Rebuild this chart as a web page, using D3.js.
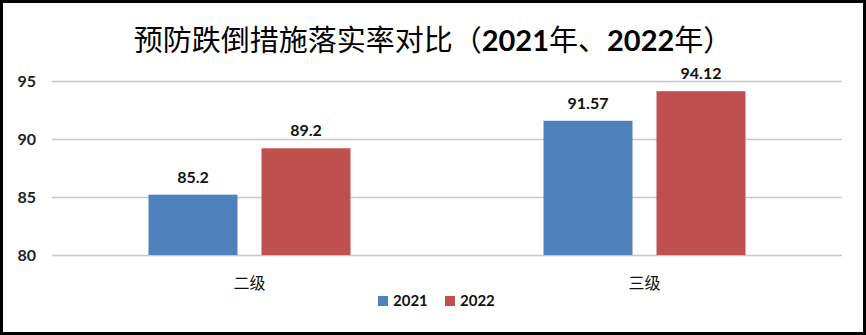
<!DOCTYPE html>
<html>
<head>
<meta charset="utf-8">
<script src="https://cdn.jsdelivr.net/npm/d3@7"></script>
<style>
  body { margin: 0; background: #fff; }
  svg { display: block; }
</style>
</head>
<body>
<svg width="866" height="335"></svg>
<script>
var categories = ["二级", "三级"];
var series = ["2021", "2022"];
var values2021 = [85.2, 91.57];
var values2022 = [89.2, 94.12];
var yTicks = [80, 85, 90, 95];
var colors = ["#4F81BD", "#C0504D"];

var svg = d3.select("svg"),
    width = +svg.attr("width"),
    height = +svg.attr("height");

var numFont = "Lato, 'Liberation Sans', sans-serif";
var cjkFont = "'Noto Sans CJK SC', sans-serif";

svg.append("rect")
    .attr("x", 1.5).attr("y", 1.5)
    .attr("width", width - 3).attr("height", height - 3)
    .attr("fill", "#fff")
    .attr("stroke", "#000")
    .attr("stroke-width", 3);

// title: mixed CJK + bold digits
var title = svg.append("text")
    .attr("x", width / 2)
    .attr("y", 51)
    .attr("text-anchor", "middle")
    .style("font-size", "29px")
    .style("fill", "#000");
[["预防跌倒措施落实率对比（", false], ["2021", true], ["年、", false], ["2022", true], ["年）", false]]
  .forEach(function(p) {
    title.append("tspan")
        .text(p[0])
        .style("font-family", p[1] ? numFont : cjkFont)
        .style("font-weight", p[1] ? "bold" : "normal");
  });

var y = d3.scaleLinear().domain([80, 95]).range([255, 81]);
var x0 = d3.scaleBand().domain(categories).range([52, 842]);
var x1 = d3.scaleBand().domain(series).range([0, x0.bandwidth()])
    .paddingInner(0.2124).paddingOuter(0.854);

// gridlines
svg.append("g")
  .selectAll("line")
  .data(yTicks)
  .enter().append("line")
    .attr("x1", 52).attr("x2", 842)
    .attr("y1", function(d) { return Math.round(y(d)) + 0.5; })
    .attr("y2", function(d) { return Math.round(y(d)) + 0.5; })
    .attr("stroke", "#c8c8c8")
    .attr("stroke-width", 1.5);

// y axis labels
svg.append("g")
  .selectAll("text")
  .data(yTicks)
  .enter().append("text")
    .attr("x", 36)
    .attr("y", function(d) { return y(d); })
    .attr("dy", "0.35em")
    .attr("text-anchor", "end")
    .style("font-family", numFont)
    .style("font-weight", "bold")
    .style("font-size", "16px")
    .style("fill", "#222")
    .text(function(d) { return d; });

var rows = categories.map(function(c, i) {
  return { cat: c, vals: [values2021[i], values2022[i]] };
});

var group = svg.append("g")
  .selectAll("g")
  .data(rows)
  .enter().append("g")
    .attr("transform", function(d) { return "translate(" + x0(d.cat) + ",0)"; });

var bars = group.selectAll("g")
    .data(function(d) {
      return series.map(function(s, j) { return { s: s, v: d.vals[j], c: colors[j] }; });
    })
  .enter().append("g");

bars.append("rect")
    .attr("x", function(d) { return x1(d.s); })
    .attr("y", function(d) { return y(d.v); })
    .attr("width", x1.bandwidth())
    .attr("height", function(d) { return y(80) - y(d.v); })
    .attr("fill", function(d) { return d.c; });

bars.append("text")
    .attr("x", function(d) { return x1(d.s) + x1.bandwidth() / 2; })
    .attr("y", function(d) { return y(d.v) - 12; })
    .attr("text-anchor", "middle")
    .style("font-family", numFont)
    .style("font-weight", "bold")
    .style("font-size", "16px")
    .style("fill", "#111")
    .text(function(d) { return d.v; });

// category labels
svg.append("g")
  .selectAll("text")
  .data(categories)
  .enter().append("text")
    .attr("x", function(d) { return x0(d) + x0.bandwidth() / 2; })
    .attr("y", 283)
    .attr("dy", "0.35em")
    .attr("text-anchor", "middle")
    .style("font-family", cjkFont)
    .style("font-size", "16px")
    .style("fill", "#111")
    .text(function(d) { return d; });

// legend
var legend = svg.append("g")
  .selectAll("g")
  .data(series)
  .enter().append("g")
    .attr("transform", function(d, i) { return "translate(" + (378 + i * 67) + ",301)"; });

legend.append("rect")
    .attr("x", 0).attr("y", -5)
    .attr("width", 10).attr("height", 10)
    .attr("fill", function(d, i) { return colors[i]; });

legend.append("text")
    .attr("x", 15)
    .attr("dy", "0.35em")
    .style("font-family", numFont)
    .style("font-weight", "bold")
    .style("font-size", "15px")
    .style("fill", "#111")
    .text(function(d) { return d; });
</script>
</body>
</html>
